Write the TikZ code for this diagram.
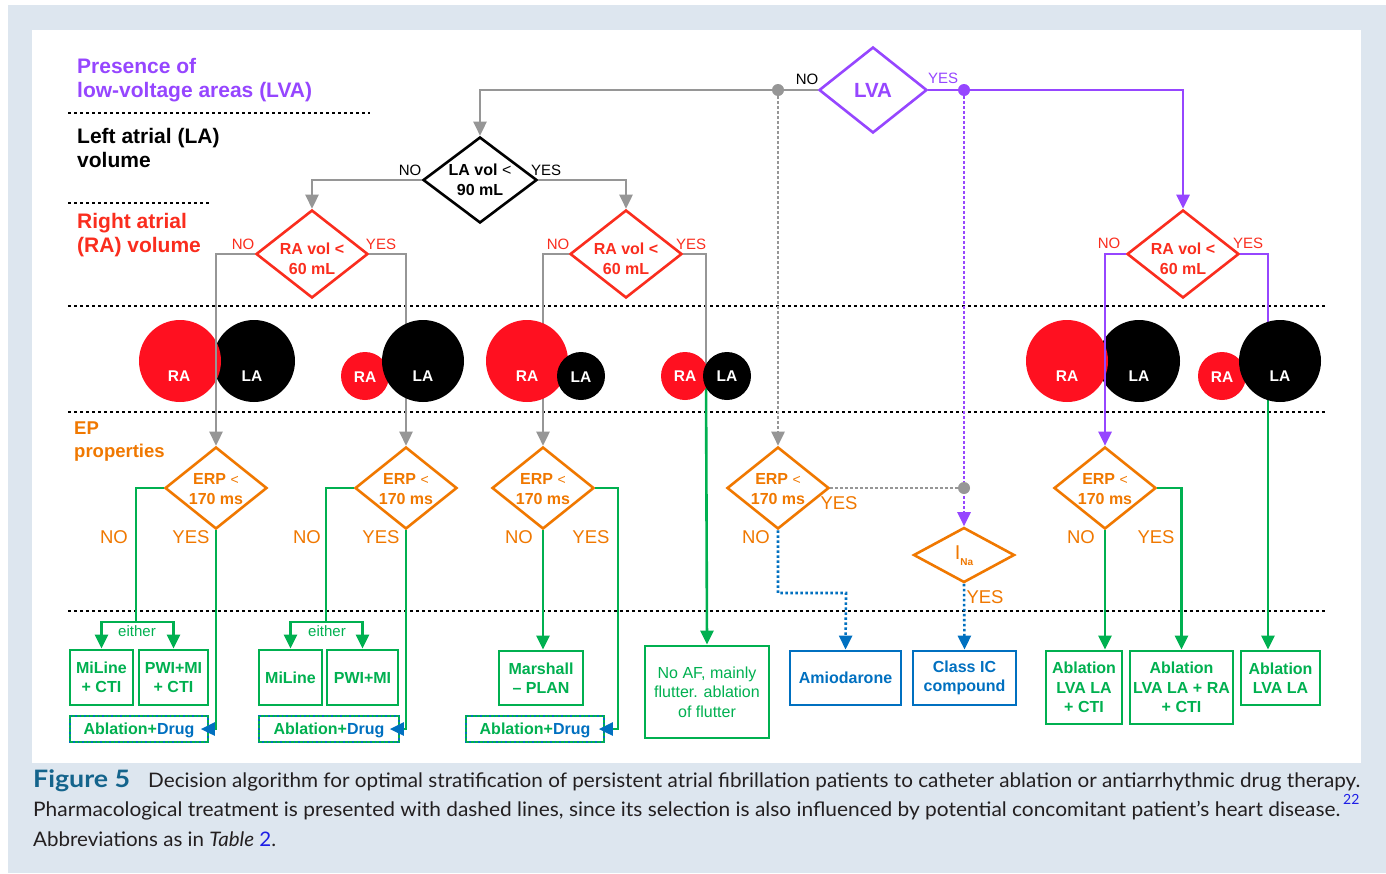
\documentclass[tikz,border=0pt]{standalone}
\usepackage{fontspec}
\setmainfont{Liberation Sans}
\newfontfamily\capfont{Lato}
\usepackage{graphicx}
\usetikzlibrary{shapes.geometric,arrows.meta}
\definecolor{xgray}{RGB}{150,150,150}
\definecolor{xpurple}{RGB}{150,70,255}
\definecolor{xred}{RGB}{250,45,30}
\definecolor{xcred}{RGB}{255,16,32}
\definecolor{xorange}{RGB}{240,120,0}
\definecolor{xgreen}{RGB}{0,176,80}
\definecolor{xblue}{RGB}{0,112,192}
\definecolor{capbg}{RGB}{221,230,239}
\definecolor{figblue}{RGB}{20,100,140}
\definecolor{refblue}{RGB}{30,30,230}
\definecolor{captext}{RGB}{35,31,32}
\newcommand{\myfs}[2]{\fontsize{#1}{#2}\selectfont}
\newcommand{\dtxt}[2]{\raisebox{#1}[0pt][0pt]{\makebox[0pt]{\def\arraystretch{1}\begin{tabular}{@{}c@{}}#2\end{tabular}}}}
\newcommand{\adtxt}{\raisebox{-1.5pt}[\height][\depth]{\textcolor{xgreen}{Ablation+}\textcolor{xblue}{Drug}}}
\begin{document}
\begin{tikzpicture}[x=1pt,y=-1pt,
  conn/.style={line width=2.6pt},
  tip/.style={-{Triangle[width=13pt,length=14pt]}},
  btip/.style={-{Triangle[width=13pt,length=14pt,color=xblue]}, shorten >=-8pt},
  dotline/.style={dash pattern=on 2.6pt off 2.4pt},
  sepline/.style={line width=1.3pt, dash pattern=on 3pt off 3pt},
  dia/.style={diamond, draw, line width=2.6pt, inner sep=0pt, font=\bfseries\myfs{16}{20}},
  gbox/.style={draw=xgreen, line width=2.8pt, text=xgreen, inner sep=0pt, align=center, font=\bfseries\myfs{16}{19.5}},
  bbox/.style={draw=xblue, line width=2.8pt, text=xblue, inner sep=0pt, align=center, font=\bfseries\myfs{16}{19.5}},
  adbox/.style={draw=xblue, line width=1.6pt, inner sep=0pt, font=\bfseries\myfs{16}{19}, minimum height=26pt,
     postaction={draw=xgreen, dash pattern=on 3pt off 1.5pt}},
  sec/.style={anchor=base west, inner sep=0pt, font=\bfseries\myfs{21}{24}},
  yn/.style={inner sep=0pt, font=\myfs{15}{15}},
  ynb/.style={inner sep=0pt, text=xorange, font=\myfs{18.5}{18.5}},
  dotn/.style={circle, inner sep=0pt, minimum size=12pt},
  rac/.style={circle, fill=xcred, inner sep=0pt},
  lac/.style={circle, fill=black, inner sep=0pt},
  ctext/.style={inner sep=0pt, text=white, font=\bfseries\myfs{15.5}{15.5}},
  captxt/.style={anchor=base west, inner sep=0pt, text=captext, font=\capfont\myfs{20}{24}}
]
\useasboundingbox (0,0) rectangle (1386,873);
\fill[capbg] (8,5) rectangle (1386,873);
\fill[white] (32,30) rectangle (1361,763);

% section labels
\node[sec, text=xpurple] (s1a) at (77,73) {Presence of};
\node[sec, text=xpurple] (s1b) at (77,97) {low-voltage areas (LVA)};
\node[sec] (s2a) at (77,143) {Left atrial (LA)};
\node[sec] (s2b) at (77,167) {volume};
\node[sec, text=xred] (s3a) at (77,228) {Right atrial};
\node[sec, text=xred] (s3b) at (77,252) {(RA) volume};
\node[sec, text=xorange, font=\bfseries\myfs{18.5}{22}] (s4a) at (74,434) {EP};
\node[sec, text=xorange, font=\bfseries\myfs{18.5}{22}] (s4b) at (74,457) {properties};

% separators
\draw[sepline] (68,113) -- (370,113);
\draw[sepline] (68,203) -- (210,203);
\draw[sepline] (68,306) -- (1325,306);
\draw[sepline] (68,412) -- (1325,412);
\draw[sepline] (68,611) -- (1325,611);

% diamonds
\node[dia, draw=xpurple, text=xpurple, minimum width=108pt, minimum height=86pt, font=\bfseries\myfs{20.5}{22}] (lva) at (873,90) {\dtxt{-8.5pt}{LVA}};
\node[dia, draw=black, minimum width=114pt, minimum height=86pt] (lav) at (480,180) {\dtxt{-5.5pt}{LA vol {\mdseries<}\\90 mL}};
\node[dia, draw=xred, text=xred, minimum width=112pt, minimum height=88pt] (ral) at (312,254) {\dtxt{-10.5pt}{RA vol <\\60 mL}};
\node[dia, draw=xred, text=xred, minimum width=112pt, minimum height=88pt] (ram) at (626,254) {\dtxt{-10.5pt}{RA vol <\\60 mL}};
\node[dia, draw=xred, text=xred, minimum width=112pt, minimum height=88pt] (rar) at (1183,254) {\dtxt{-10.5pt}{RA vol <\\60 mL}};
\node[dia, draw=xorange, text=xorange, minimum width=102pt, minimum height=82pt] (erp1) at (216,488) {\dtxt{-6.5pt}{ERP {\mdseries\myfs{14}{14}<}\\170 ms}};
\node[dia, draw=xorange, text=xorange, minimum width=102pt, minimum height=82pt] (erp2) at (406,488) {\dtxt{-6.5pt}{ERP {\mdseries\myfs{14}{14}<}\\170 ms}};
\node[dia, draw=xorange, text=xorange, minimum width=102pt, minimum height=82pt] (erp3) at (543,488) {\dtxt{-6.5pt}{ERP {\mdseries\myfs{14}{14}<}\\170 ms}};
\node[dia, draw=xorange, text=xorange, minimum width=102pt, minimum height=82pt] (erp4) at (778,488) {\dtxt{-6.5pt}{ERP {\mdseries\myfs{14}{14}<}\\170 ms}};
\node[dia, draw=xorange, text=xorange, minimum width=102pt, minimum height=82pt] (erp5) at (1105,488) {\dtxt{-6.5pt}{ERP {\mdseries\myfs{14}{14}<}\\170 ms}};
\node[dia, draw=xorange, text=xorange, minimum width=101pt, minimum height=55pt, font=\myfs{20}{20}] (ina) at (964,555) {\dtxt{-6pt}{I\raisebox{-6pt}{\bfseries\myfs{10}{10}Na}}};

% boxes
\node[gbox, minimum width=63pt, minimum height=55pt] (b1) at (101.5,677.5) {MiLine\\+ CTI};
\node[gbox, minimum width=69pt, minimum height=55pt] (b2) at (173.5,677.5) {PWI+MI\\+ CTI};
\node[adbox, minimum width=138pt] (ad1) at (139,729) {\adtxt};
\node[gbox, minimum width=63pt, minimum height=55pt] (b3) at (290.5,677.5) {MiLine};
\node[gbox, minimum width=71pt, minimum height=55pt] (b4) at (362.5,677.5) {PWI+MI};
\node[adbox, minimum width=140pt] (ad2) at (329,729) {\adtxt};
\node[gbox, minimum width=84pt, minimum height=54pt] (b5) at (541,678) {Marshall\\– PLAN};
\node[adbox, minimum width=138pt] (ad3) at (535,729) {\adtxt};
\node[gbox, minimum width=124pt, minimum height=92pt, font=\myfs{16}{19.5}] (noaf) at (707,692) {No AF, mainly\\flutter. ablation\\of flutter};
\node[bbox, minimum width=111pt, minimum height=54pt] (amio) at (845.5,678) {Amiodarone};
\node[bbox, minimum width=103pt, minimum height=54pt] (cic) at (964.5,678) {Class IC\\compound};
\node[gbox, minimum width=76pt, minimum height=73pt] (abl1) at (1084,687.5) {Ablation\\LVA LA\\+ CTI};
\node[gbox, minimum width=103pt, minimum height=73pt] (abl2) at (1181.5,687.5) {Ablation\\LVA LA + RA\\+ CTI};
\node[gbox, minimum width=79pt, minimum height=54pt] (abl3) at (1280.5,678) {Ablation\\LVA LA};

% junction coordinates
\coordinate (j4) at (706,376);
\coordinate (j6) at (1268,376);
\coordinate (sp1) at (136,622);
\coordinate (sp2) at (326,622);
\coordinate (k3) at (618,729);
\coordinate (k4) at (846,593);
\node[dotn] (d1) at (778,90) {};
\node[dotn] (d2) at (964,90) {};
\node[dotn] (d3) at (964,488) {};

% connectors (behind circles)
\begin{scope}[conn]
\draw[xgray, tip] (lva.west) -| (lav.north);
\draw[xgray, dotline, tip] (d1) -- (erp4.north);
\draw[xpurple, tip] (lva.east) -| (rar.north);
\draw[xpurple, dotline, tip] (d2) -- (ina.north);
\draw[xgray, tip] (lav.west) -| (ral.north);
\draw[xgray, tip] (lav.east) -| (ram.north);
\draw[xgray, tip] (ral.east) -| (erp2.north);
\draw[xgray, tip] (ram.west) -| (erp3.north);
\draw[xgray] (ram.east) -| (j4);
\draw[xgreen, tip] (j4) -- (noaf.north);
\draw[xpurple] (rar.east) -| (j6);
\draw[xgreen, tip] (j6) -- (j6 |- abl3.north);
% ERP branches
\draw[xgreen] (erp1.west) -| (sp1);
\draw[xgreen, tip] (sp1) -| (b1.north);
\draw[xgreen, tip] (sp1) -| (b2.north);
\draw[xgreen, btip] (erp1.south) |- (ad1.east);
\draw[xgreen] (erp2.west) -| (sp2);
\draw[xgreen, tip] (sp2) -| (b3.north);
\draw[xgreen, tip] (sp2) -| (b4.north);
\draw[xgreen, btip, shorten >=-10pt] (erp2.south) |- (ad2.east);
\draw[xgreen, tip] (erp3.south) -- (erp3.south |- b5.north);
\draw[xgreen, btip, shorten >=-6pt] (erp3.east) -| (k3) -- (ad3.east);
\draw[xgray, dotline] (erp4.east) -- (d3);
\draw[xblue, dotline, tip] (erp4.south) |- (k4) -- (amio.north);
\draw[xblue, dotline, tip] (ina.south) -- (cic.north);
\draw[xgreen, tip] (erp5.south) -- (erp5.south |- abl1.north);
\draw[xgreen, tip] (erp5.east) -| (abl2.north);
\end{scope}

\fill[xgray] (d1) circle (6pt);
\fill[xpurple] (d2) circle (6pt);
\fill[xgray] (d3) circle (6pt);

% atria circles
\node[lac, minimum size=82pt] (la1) at (254,361) {};
\node[rac, minimum size=82pt] (ra1) at (180,361) {};
\node[rac, minimum size=48pt] (ra2) at (365,376) {};
\node[lac, minimum size=82pt] (la2) at (423,361) {};
\node[rac, minimum size=82pt] (ra3) at (527,361) {};
\node[lac, minimum size=48pt] (la3) at (581,376) {};
\node[rac, minimum size=48pt] (ra4) at (685,376) {};
\node[lac, minimum size=48pt] (la4) at (727,376) {};
\node[lac, minimum size=82pt] (la5) at (1139,361) {};
\node[rac, minimum size=82pt] (ra5) at (1067,361) {};
\node[rac, minimum size=48pt] (ra6) at (1222,376) {};
\node[lac, minimum size=82pt] (la6) at (1280,361) {};
\node[ctext] (t1) at (179,376) {RA};
\node[ctext] (t2) at (252,376) {LA};
\node[ctext] (t3) at (365,377) {RA};
\node[ctext] (t4) at (423,376) {LA};
\node[ctext] (t5) at (527,376) {RA};
\node[ctext] (t6) at (581,377) {LA};
\node[ctext] (t7) at (685,376) {RA};
\node[ctext] (t8) at (727,376) {LA};
\node[ctext] (t9) at (1067,376) {RA};
\node[ctext] (t10) at (1139,376) {LA};
\node[ctext] (t11) at (1222,377) {RA};
\node[ctext] (t12) at (1280,376) {LA};

% connectors over circles
\begin{scope}[conn]
\draw[xgray, tip] (ral.west) -| (erp1.north);
\draw[xpurple, tip] (rar.west) -| (erp5.north);
\end{scope}

% branch labels
\node[yn] (n1) at (807,79) {NO};
\node[yn, text=xpurple] (y1) at (943,78) {YES};
\node[yn] (n2) at (410,170) {NO};
\node[yn] (y2) at (546,170) {YES};
\node[yn, text=xred] (n3) at (243,244) {NO};
\node[yn, text=xred] (y3) at (381,244) {YES};
\node[yn, text=xred] (n4) at (558,244) {NO};
\node[yn, text=xred] (y4) at (691,244) {YES};
\node[yn, text=xred] (n5) at (1109,243) {NO};
\node[yn, text=xred] (y5) at (1248,243) {YES};
\node[ynb] (n6) at (114,537) {NO};
\node[ynb] (y6) at (191,537) {YES};
\node[ynb] (n7) at (307,537) {NO};
\node[ynb] (y7) at (381,537) {YES};
\node[ynb] (n8) at (519,537) {NO};
\node[ynb] (y8) at (591,537) {YES};
\node[ynb] (y9) at (839,503) {YES};
\node[ynb] (n9) at (756,537) {NO};
\node[ynb] (y10) at (985,597) {YES};
\node[ynb] (n11) at (1081,537) {NO};
\node[ynb] (y11) at (1156,537) {YES};
\node[yn, text=xgreen] (e1) at (137,631) {either};
\node[yn, text=xgreen] (e2) at (327,631) {either};

% caption
\node[captxt, text=figblue, font=\capfont\bfseries\myfs{24}{24}] (fig) at (33,787) {\resizebox{97pt}{\height}{Figure 5}};
\node[captxt] (c1) at (148,787) {\resizebox{1212pt}{\height}{Decision algorithm for optimal stratification of persistent atrial fibrillation patients to catheter ablation or antiarrhythmic drug therapy.}};
\node[captxt] (c2) at (33,816) {\resizebox{1307pt}{\height}{Pharmacological treatment is presented with dashed lines, since its selection is also influenced by potential concomitant patient’s heart disease.}};
\node[captxt, text=refblue, font=\capfont\myfs{14}{14}] (c2s) at (1343,804) {22};
\node[captxt] (c3) at (33,846) {\resizebox{243pt}{\height}{Abbreviations as in \textit{Table} \textcolor{refblue}{2}.}};
\end{tikzpicture}
\end{document}
